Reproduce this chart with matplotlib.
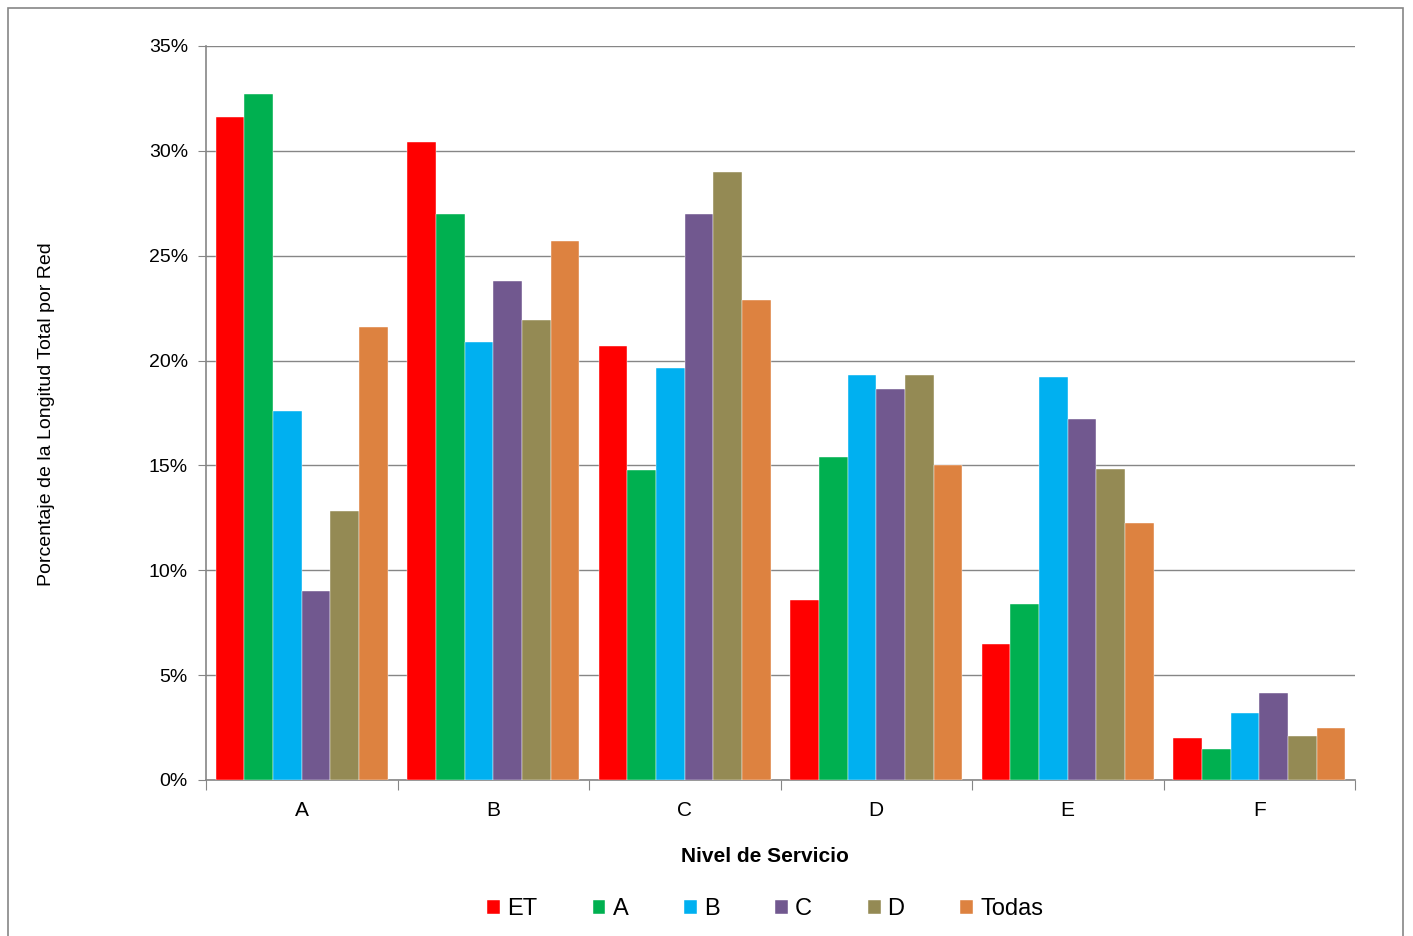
import matplotlib
matplotlib.use("Agg")
import matplotlib.pyplot as plt
import numpy as np
from matplotlib.patches import Rectangle
from matplotlib.ticker import FuncFormatter

categories = ["A", "B", "C", "D", "E", "F"]
series_names = ["ET", "A", "B", "C", "D", "Todas"]
et = [31.6, 30.4, 20.7, 8.6, 6.5, 2.0]
sa = [32.7, 27.0, 14.8, 15.4, 8.4, 1.5]
sb = [17.6, 20.9, 19.65, 19.3, 19.2, 3.2]
sc = [9.0, 23.8, 27.0, 18.65, 17.2, 4.15]
sd = [12.85, 21.95, 29.0, 19.3, 14.85, 2.1]
todas = [21.6, 25.7, 22.9, 15.0, 12.25, 2.5]
series = [et, sa, sb, sc, sd, todas]
colors = ["#FF0000", "#00B050", "#00B0F0", "#71588F", "#948A54", "#DD8240"]

fam = ["Liberation Sans", "DejaVu Sans"]

fig = plt.figure(figsize=(14.13, 9.36), dpi=100)
ax = fig.add_axes([206/1413, 1-780/936, (1355-206)/1413, (780-46)/936])

w = 0.15
x = np.arange(len(categories))
for i, (vals, c, name) in enumerate(zip(series, colors, series_names)):
    ax.bar(x - 0.45 + w*(i+0.5), vals, width=w, color=c, label=name,
           edgecolor="white", linewidth=0.3, zorder=3)

ax.set_xlim(-0.5, len(categories)-0.5)
ax.set_ylim(0, 35)
ax.set_yticks(np.arange(0, 36, 5))
ax.yaxis.set_major_formatter(FuncFormatter(lambda v, p: f"{int(v)}%"))
ax.grid(axis="y", color="#868686", linewidth=1.0, zorder=0)
ax.set_axisbelow(True)

ax.set_xticks(np.arange(-0.5, len(categories), 1.0))
ax.set_xticklabels([])
ax.set_xticks(x, minor=True)
ax.set_xticklabels(categories, minor=True, fontsize=15, family=fam)
ax.tick_params(axis="x", which="major", length=7, color="#868686", direction="out")
ax.tick_params(axis="x", which="minor", length=0, pad=15)
ax.tick_params(axis="y", length=6, color="#868686", labelsize=14, pad=7)
for lbl in ax.get_yticklabels():
    lbl.set_family(fam)

for s in ["top", "right"]:
    ax.spines[s].set_visible(False)
ax.spines["left"].set_color("#868686")
ax.spines["bottom"].set_color("#868686")
ax.spines["left"].set_linewidth(1.2)
ax.spines["bottom"].set_linewidth(1.2)

fig.text(47/1413, 1-414/936, "Porcentaje de la Longitud Total por Red", fontsize=14,
         family=fam, rotation=90, ha="center", va="center")
fig.text(765/1413, 1-856/936, "Nivel de Servicio", fontsize=15,
         family=fam, fontweight="bold", ha="center", va="center")

leg = fig.legend(loc="center", bbox_to_anchor=(765/1413, 1-909/936), ncol=6,
                 frameon=False, handlelength=0.55, handleheight=0.55,
                 handletextpad=0.3, columnspacing=2.35,
                 prop={"family": fam, "size": 17})

fig.patches.append(Rectangle((8/1413, -0.01), (1403-8)/1413, 1-8/936+0.01,
                             transform=fig.transFigure, fill=False,
                             edgecolor="#868686", linewidth=1.2))

fig.savefig("out.png", dpi=100)
